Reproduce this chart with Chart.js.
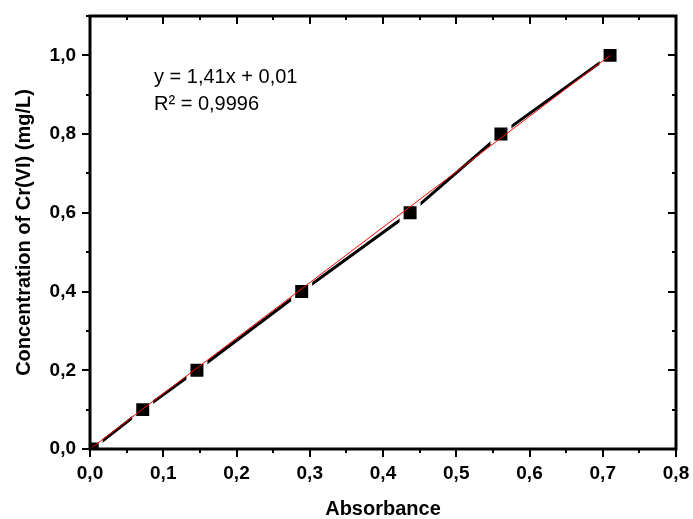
<!DOCTYPE html>
<html>
<head>
<meta charset="utf-8">
<script src="https://cdn.jsdelivr.net/npm/chart.js@4.4.1/dist/chart.umd.min.js"></script>
<style>
  html, body { margin: 0; padding: 0; background: #fff; }
  #wrap { width: 693px; height: 519px; }
</style>
</head>
<body>
<div id="wrap"><canvas id="calChart" width="693" height="519"></canvas></div>
<script>
// measured points
const absorbance = [0.003, 0.072, 0.146, 0.289, 0.437, 0.561, 0.710];
const concentration = [0.0, 0.1, 0.2, 0.4, 0.6, 0.8, 1.0];

// linear fit, end points only
const fitAbsorbance = [0.0, 0.710];
const fitConcentration = [0.0, 1.0];

const fitText = ['y = 1,41x + 0,01', 'R\u00b2 = 0,9996'];

const FONT = "'Liberation Sans', Arial, sans-serif";

function toPoints(xs, ys) {
    return xs.map((x, i) => ({x: x, y: ys[i]}));
}

function commaLabel(value, index) {
    if (index % 2 !== 0) return '';
    return value.toFixed(1).replace('.', ',');
}

// box frame + origin style ticks (out on left/bottom, in on top/right)
const framePlugin = {
    id: 'frame',
    afterDraw(chart) {
        const ctx = chart.ctx;
        const a = chart.chartArea;
        const xs = chart.scales.x;
        const ys = chart.scales.y;
        ctx.save();
        ctx.strokeStyle = '#000';
        ctx.lineWidth = 2;
        xs.ticks.forEach((t, i) => {
            const px = Math.round(xs.getPixelForValue(t.value));
            const len = i % 2 === 0 ? 8 : 4;
            ctx.beginPath();
            ctx.moveTo(px, a.bottom);
            ctx.lineTo(px, a.bottom + len);
            ctx.moveTo(px, a.top);
            ctx.lineTo(px, a.top + len);
            ctx.stroke();
        });
        ys.ticks.forEach((t, i) => {
            const py = Math.round(ys.getPixelForValue(t.value));
            const len = i % 2 === 0 ? 8 : 4;
            ctx.beginPath();
            ctx.moveTo(a.left, py);
            ctx.lineTo(a.left - len, py);
            ctx.moveTo(a.right, py);
            ctx.lineTo(a.right - len, py);
            ctx.stroke();
        });
        ctx.lineWidth = 3;
        ctx.strokeRect(a.left, a.top, a.right - a.left, a.bottom - a.top);

        ctx.fillStyle = '#000';
        ctx.font = '20px ' + FONT;
        ctx.textAlign = 'left';
        ctx.textBaseline = 'alphabetic';
        ctx.fillText(fitText[0], a.left + 64, a.top + 67);
        ctx.fillText(fitText[1], a.left + 64, a.top + 94);
        ctx.restore();
    }
};

const calChart = new Chart(
        document.getElementById('calChart'),
        {
            type: 'scatter',
            data: {
                datasets: [
                    {
                        label: 'data',
                        data: toPoints(absorbance, concentration),
                        showLine: true,
                        borderColor: '#000',
                        borderWidth: 3,
                        backgroundColor: '#000',
                        pointStyle: 'rect',
                        pointRadius: 12,
                        pointBorderWidth: 4,
                        pointBorderColor: '#fff',
                        pointBackgroundColor: '#000',
                        clip: 0,
                        order: 2
                    },
                    {
                        label: 'fit',
                        data: toPoints(fitAbsorbance, fitConcentration),
                        showLine: true,
                        borderColor: 'rgb(255, 0, 0)',
                        borderWidth: 1,
                        pointRadius: 0,
                        order: 1
                    }
                ]
            },
            options: {
                animation: false,
                responsive: false,
                layout: {
                    padding: {left: 0, top: 14, right: 17, bottom: 0}
                },
                plugins: {
                    legend: {display: false},
                    tooltip: {enabled: false}
                },
                scales: {
                    x: {
                        type: 'linear',
                        min: 0,
                        max: 0.8,
                        grid: {display: false, drawTicks: false},
                        border: {display: false},
                        ticks: {
                            stepSize: 0.05,
                            autoSkip: false,
                            maxRotation: 0,
                            padding: 13,
                            color: '#000',
                            font: {family: FONT, size: 19, weight: 'bold'},
                            callback: commaLabel
                        },
                        title: {
                            display: true,
                            text: 'Absorbance',
                            color: '#000',
                            padding: {top: 0, bottom: -2},
                            font: {family: FONT, size: 20, weight: 'bold'}
                        },
                        afterFit(scale) {
                            scale.height = 70;
                            scale.paddingLeft = 0;
                            scale.paddingRight = 0;
                        }
                    },
                    y: {
                        type: 'linear',
                        min: 0,
                        max: 1.1,
                        grid: {display: false, drawTicks: false},
                        border: {display: false},
                        ticks: {
                            stepSize: 0.1,
                            autoSkip: false,
                            padding: 14,
                            color: '#000',
                            font: {family: FONT, size: 19, weight: 'bold'},
                            callback: commaLabel
                        },
                        title: {
                            display: true,
                            text: 'Concentration of Cr(VI) (mg/L)',
                            color: '#000',
                            padding: {top: 12, bottom: 0},
                            font: {family: FONT, size: 20, weight: 'bold'}
                        },
                        afterFit(scale) {
                            scale.width = 90;
                            scale.paddingTop = 0;
                            scale.paddingBottom = 0;
                        }
                    }
                }
            },
            plugins: [framePlugin]
        });
</script>
</body>
</html>
